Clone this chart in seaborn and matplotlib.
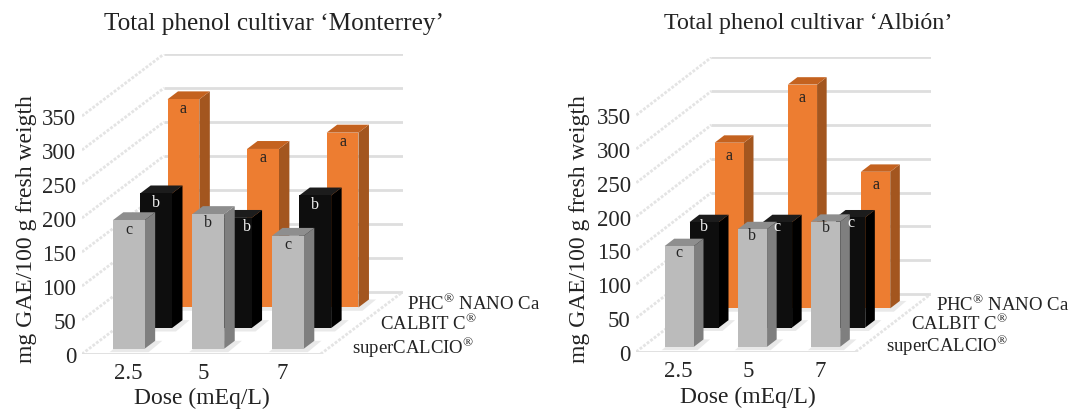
import numpy as np
import matplotlib
matplotlib.use('Agg')
import matplotlib.pyplot as plt
from matplotlib.transforms import Affine2D
import seaborn as sns

# ── Data ──────────────────────────────────────────────────
doses = ['2.5', '5', '7']
products = ['superCALCIO', 'CALBIT C', 'PHC NANO Ca']
y_ticks = [0, 50, 100, 150, 200, 250, 300, 350]

monterrey_super = [189, 198, 166]
monterrey_calbit = [198, 162, 195]
monterrey_phc = [306, 233, 257]
monterrey_letters = [['c', 'b', 'c'], ['b', 'b', 'b'], ['a', 'a', 'a']]

albion_super = [149, 174, 185]
albion_calbit = [156, 156, 163]
albion_phc = [245, 331, 202]
albion_letters = [['c', 'b', 'b'], ['b', 'c', 'c'], ['a', 'a', 'a']]

# front, side, top colour of each series
front_cols = ['#BBBBBB', '#0E0E0E', '#ED7D31']
side_cols = ['#7F7F7F', '#000000', '#A3561F']
top_cols = ['#8E8E8E', '#1C1C1C', '#C4621F']
text_cols = ['#222222', '#F2F2F2', '#222222']

W, H = 1088, 410
sns.set_theme(style='white')
plt.rcParams['font.family'] = ['Liberation Serif', 'DejaVu Serif']
plt.rcParams['mathtext.fontset'] = 'custom'
plt.rcParams['mathtext.rm'] = 'Liberation Serif'
plt.rcParams['text.color'] = '#222222'

fig = plt.figure(figsize=(W / 100, H / 100), dpi=100)


def draw_panel(title, series, letters, x0, y0, width, dx, dy, px_per_50,
               title_x, title_size, ylabel_x, xlabel_x, xlabel_y, letter_drop):
    ppu = px_per_50 / 50
    top_px = y0 - 350 * ppu - dy
    ax = fig.add_axes([x0 / W, 1 - y0 / H, (width + dx) / W, (y0 - top_px) / H])

    # depth axis: fraction of the floor -> shift in data units
    sx = dx / (width / 3)
    sz = dy / ppu
    x_left, x_right = -0.5, 2.5

    # ── walls and floor ──
    for t in y_ticks:
        ax.plot([x_left + sx, x_right + sx], [t + sz, t + sz], color='#DEDEDE',
                lw=2, zorder=0, solid_capstyle='butt')
        ax.plot([x_left, x_left + sx], [t, t + sz], color='#E4E4E4', lw=2,
                ls=(0, (1, 0.6)), zorder=0)
    ax.plot([x_left, x_right], [0, 0], color='#DEDEDE', lw=2, zorder=0)
    ax.plot([x_right, x_right + sx], [0, sz], color='#E4E4E4', lw=2,
            ls=(0, (1, 0.6)), zorder=0)

    bar_depth = 0.128
    first_row = 0.085

    # ── bars, back row first ──
    for i in [2, 1, 0]:
        before = len(ax.patches)
        sns.barplot(x=doses, y=series[i], color=front_cols[i], saturation=1,
                    width=0.40, ax=ax)
        depth = first_row + i / 3
        shift = Affine2D().translate(depth * sx, depth * sz) + ax.transData
        layer = 3 * (2 - i)
        for j, bar in enumerate(ax.patches[before:]):
            bar.set_transform(shift)
            bar.set_linewidth(0)
            bar.set_zorder(5 + layer)
            l = bar.get_x() + depth * sx
            r = l + bar.get_width()
            v = bar.get_height()
            b = depth * sz
            ox, oz = bar_depth * sx, bar_depth * sz
            # soft shadow on the floor
            ax.fill([l - 0.04, r + 0.05, r + ox + 0.09, l + ox],
                    [b - 5, b - 5, b + oz, b + oz],
                    color='#E9E9E9', lw=0, zorder=3 + layer)
            ax.fill([r, r + ox, r + ox, r], [b, b + oz, b + v + oz, b + v],
                    color=side_cols[i], lw=0, zorder=4 + layer)
            ax.fill([l, r, r + ox, l + ox], [b + v, b + v, b + v + oz, b + v + oz],
                    color=top_cols[i], lw=0, zorder=4 + layer)
            nudge = 8 if (i == 1 and j == 1 and letters is monterrey_letters) else 0
            ax.annotate(letters[i][j], ((l + r) / 2, b + v),
                        xytext=(nudge, -letter_drop[i]),
                        textcoords='offset points', ha='center', va='center',
                        fontsize=11.5, color=text_cols[i], zorder=30)

    # ── series names next to the floor ──
    for i, name in enumerate(products):
        depth = (i + 0.5) / 3
        reg = r'$^{\mathrm{®}}$'
        label = 'PHC' + reg + ' NANO Ca' if i == 2 else name + reg
        ax.annotate(label, (x_right + depth * sx, depth * sz),
                    xytext=(13, -2 if i == 0 else 0),
                    textcoords='offset points', ha='left', va='center',
                    fontsize=13.5, annotation_clip=False)

    ax.set_xlim(x_left, x_right + sx)
    ax.set_ylim(0, 350 + sz)
    ax.set_yticks(y_ticks)
    ax.set_xticks([0.08, 1.03, 2.02])
    ax.set_xticklabels(doses)
    ax.tick_params(axis='y', length=0, labelsize=16.5, pad=4)
    ax.tick_params(axis='x', length=0, labelsize=16.5, pad=6)
    ax.set_xlabel('')
    ax.set_ylabel('')
    sns.despine(ax=ax, left=True, bottom=True)
    ax.patch.set_alpha(0)

    fig.text(title_x / W, 1 - 24 / H, title, ha='center', va='center',
             fontsize=title_size)
    fig.text(ylabel_x / W, 1 - 229 / H, 'mg GAE/100 g fresh weigth', rotation=90,
             ha='center', va='center', fontsize=17)
    fig.text(xlabel_x / W, 1 - xlabel_y / H, 'Dose (mEq/L)', ha='center',
             va='center', fontsize=17)


draw_panel('Total phenol cultivar ‘Monterrey’',
           [monterrey_super, monterrey_calbit, monterrey_phc], monterrey_letters,
           x0=82, y0=355, width=238.7, dx=82, dy=62, px_per_50=34,
           title_x=274, title_size=18.2, ylabel_x=27, xlabel_x=202, xlabel_y=398,
           letter_drop=[6, 6, 6])
draw_panel('Total phenol cultivar ‘Albión’',
           [albion_super, albion_calbit, albion_phc], albion_letters,
           x0=636.3, y0=352.7, width=219.5, dx=75, dy=57.7, px_per_50=33.8,
           title_x=808, title_size=17.3, ylabel_x=580, xlabel_x=748, xlabel_y=397,
           letter_drop=[4, 3, 9])

fig.savefig('out.png', dpi=100)
